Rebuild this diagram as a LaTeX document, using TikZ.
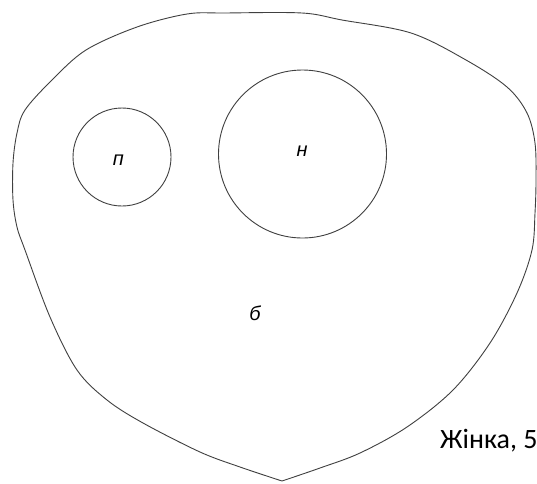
\documentclass[tikz,border=0pt]{standalone}
\usepackage{fontspec}
\setmainfont{Liberation Sans}
\newfontfamily\capfont{Carlito}
\newfontfamily\lblfont{Liberation Sans}
\begin{document}
\begin{tikzpicture}[x=1pt,y=-1pt,
  outline/.style={draw=black!75,line width=0.9pt},
  lbl/.style={font=\lblfont\itshape\fontsize{20}{20}\selectfont,anchor=base,inner sep=0pt},
  caption/.style={font=\capfont\fontsize{28}{28}\selectfont,anchor=base west,inner sep=0pt}]
\useasboundingbox (0,0) rectangle (537,483);
\fill[white] (0,0) rectangle (537,483);
% outer body
\draw[outline,line join=round] plot[smooth,tension=0.55] coordinates {
 (282,481) (240,467) (200,452) (143,423) (107,400) (77,370) (50,317) (25,250)
 (17,227) (13,200) (13,163) (17,133) (25,110) (52,80) (86,50) (137,27) (187,14)
 (225,13) (302,13) (342,20) (411,33) (466,60) (507,87) (527,113) (535,143)
 (536,180) (535,213) (532,250) (517,293) (490,343) (453,390) (407,427) (360,453)
 (320,468) (282,481)};
% inner circles
\node[outline,circle,minimum size=98pt,inner sep=0pt] (p) at (122,157) {};
\node[outline,circle,minimum size=168pt,inner sep=0pt] (n) at (302.5,154) {};
% labels
\node[lbl] (lp) at (118.5,165) {п};
\node[lbl] (ln) at (302,156) {н};
\node[lbl] (lb) at (255,320) {б};
\node[caption] (cap) at (440,448) {Жінка, 5};
\end{tikzpicture}
\end{document}
